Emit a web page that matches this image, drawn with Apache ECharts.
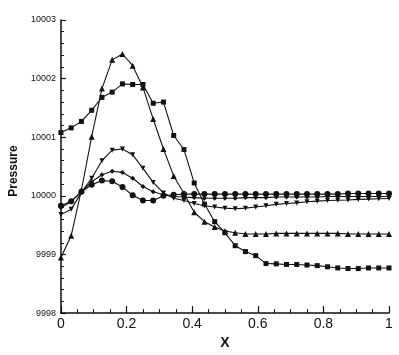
<!DOCTYPE html>
<html>
<head>
<meta charset="utf-8">
<script src="https://cdn.jsdelivr.net/npm/echarts@6/dist/echarts.min.js"></script>
<style>
  html, body { margin: 0; padding: 0; background: #fff; }
  #chart { width: 399px; height: 355px; }
</style>
</head>
<body>
<div id="chart"></div>
<script>
// x stations, 33 points from 0 to 1
const xs = [0, 0.03125, 0.0625, 0.09375, 0.125, 0.15625, 0.1875, 0.21875, 0.25,
  0.28125, 0.3125, 0.34375, 0.375, 0.40625, 0.4375, 0.46875, 0.5,
  0.53125, 0.5625, 0.59375, 0.625, 0.65625, 0.6875, 0.71875, 0.75,
  0.78125, 0.8125, 0.84375, 0.875, 0.90625, 0.9375, 0.96875, 1];

// triangle-up series
const triUp = [9998.95, 9999.32, 10000.1, 10001.01, 10001.83, 10002.32, 10002.42, 10002.22, 10001.85,
  10001.31, 10000.8, 10000.34, 10000.04, 9999.72, 9999.56, 9999.47, 9999.4,
  9999.37, 9999.35, 9999.35, 9999.35, 9999.36, 9999.36, 9999.36, 9999.36,
  9999.36, 9999.36, 9999.36, 9999.35, 9999.35, 9999.35, 9999.35, 9999.35];

// square series
const squares = [10001.08, 10001.16, 10001.27, 10001.46, 10001.68, 10001.77, 10001.91, 10001.9, 10001.9,
  10001.58, 10001.6, 10001.03, 10000.79, 10000.22, 9999.86, 9999.56, 9999.37,
  9999.15, 9999.05, 9998.98, 9998.845, 9998.84, 9998.83, 9998.83, 9998.82,
  9998.81, 9998.79, 9998.77, 9998.76, 9998.76, 9998.77, 9998.77, 9998.77];

// triangle-down series
const triDown = [9999.68, 9999.77, 10000.06, 10000.3, 10000.6, 10000.78, 10000.8, 10000.7, 10000.47,
  10000.23, 10000.05, 9999.96, 9999.92, 9999.87, 9999.83, 9999.81, 9999.79,
  9999.78, 9999.79, 9999.81, 9999.83, 9999.855, 9999.87, 9999.88, 9999.9,
  9999.91, 9999.92, 9999.925, 9999.93, 9999.94, 9999.945, 9999.95, 9999.955];

// small diamond series
const diamonds = [9999.8, 9999.9, 10000.07, 10000.24, 10000.36, 10000.42, 10000.4, 10000.3, 10000.16,
  10000.07, 10000.02, 9999.99, 9999.98, 9999.97, 9999.96, 9999.96, 9999.96,
  9999.96, 9999.97, 9999.97, 9999.97, 9999.98, 9999.98, 9999.98, 9999.98,
  9999.98, 9999.99, 9999.99, 9999.99, 9999.99, 9999.99, 9999.99, 9999.99];

// big circle series
const circles = [9999.83, 9999.91, 10000.07, 10000.19, 10000.26, 10000.25, 10000.15, 10000.01, 9999.92,
  9999.92, 10000.0, 10000.02, 10000.03, 10000.03, 10000.03, 10000.03, 10000.03,
  10000.03, 10000.03, 10000.03, 10000.03, 10000.03, 10000.03, 10000.03, 10000.03,
  10000.03, 10000.03, 10000.03, 10000.04, 10000.04, 10000.04, 10000.04, 10000.04];

const ink = "#111";

function pairs(ys) {
  return xs.map((x, i) => [x, ys[i]]);
}

function line(name, ys, symbol, size, rotate) {
  return {
    name: name,
    type: "line",
    data: pairs(ys),
    symbol: symbol,
    symbolSize: size,
    symbolRotate: rotate || 0,
    showSymbol: true,
    animation: false,
    lineStyle: { color: ink, width: 1.1 },
    itemStyle: { color: ink, borderWidth: 0 },
  };
}

const chart = echarts.init(document.getElementById("chart"));
chart.setOption({
  backgroundColor: "#fff",
  animation: false,
  grid: { left: 49, right: 10, top: 20, bottom: 36 },
  xAxis: {
    type: "value",
    min: 0,
    max: 1,
    interval: 0.2,
    name: "X",
    nameLocation: "middle",
    nameGap: 16,
    nameTextStyle: { color: ink, fontSize: 14, fontWeight: "bold", fontFamily: "Liberation Sans" },
    axisLine: { show: true, lineStyle: { color: ink, width: 1.5 } },
    axisTick: { show: true, inside: true, length: 7, lineStyle: { color: ink, width: 1.2 } },
    minorTick: { show: true, splitNumber: 4, length: 4, lineStyle: { color: ink, width: 1 } },
    axisLabel: {
      color: ink, fontSize: 14, margin: 4, fontFamily: "Liberation Sans",
      formatter: (v) => String(+v.toFixed(1)),
    },
    splitLine: { show: false },
  },
  yAxis: {
    type: "value",
    min: 9998,
    max: 10003,
    interval: 1,
    name: "Pressure",
    nameLocation: "middle",
    nameGap: 31,
    nameTextStyle: { color: ink, fontSize: 12, fontWeight: "bold", fontFamily: "Liberation Sans", padding: [0, 9, 0, 0] },
    axisLine: { show: true, lineStyle: { color: ink, width: 1.5 } },
    axisTick: { show: true, inside: true, length: 5, lineStyle: { color: ink, width: 1.2 } },
    minorTick: { show: true, splitNumber: 5, length: 3, lineStyle: { color: ink, width: 1 } },
    axisLabel: {
      color: ink, fontSize: 9, margin: 5, fontFamily: "Liberation Sans",
      formatter: (v) => String(v),
    },
    splitLine: { show: false },
  },
  series: [
    line("triangle up", triUp, "triangle", 6),
    line("square", squares, "rect", 5),
    line("triangle down", triDown, "triangle", 5, 180),
    line("diamond", diamonds, "diamond", 5),
    line("circle", circles, "circle", 6),
  ],
});
</script>
</body>
</html>
